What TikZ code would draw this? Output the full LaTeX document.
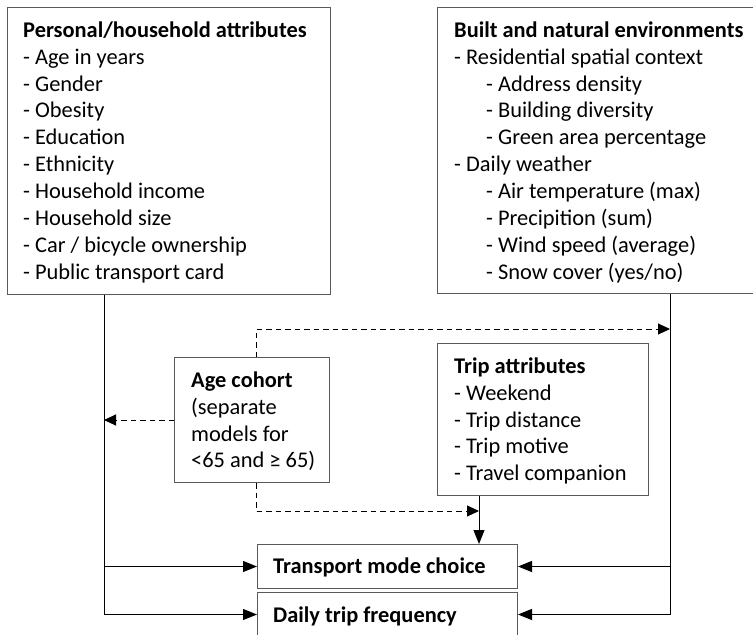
\documentclass[tikz,border=0pt]{standalone}
\usepackage{fontspec}
\setmainfont{Carlito}
\usetikzlibrary{arrows.meta,calc}
\definecolor{boxgray}{gray}{0.35}
\begin{document}
\begin{tikzpicture}[x=1pt,y=-1pt,
  box/.style={draw=boxgray, line width=1pt, inner sep=0pt, anchor=north west, fill=white},
  txt/.style={anchor=north west, align=left, inner sep=0pt, font=\fontsize{22.4}{26.9}\selectfont},
  conn/.style={line width=1pt, draw=black},
  arr/.style={conn, -{Triangle[length=14pt,width=11pt]}},
  darr/.style={conn, -{Triangle[length=12pt,width=11pt]}, dash pattern=on 5.5pt off 4pt}
]
\useasboundingbox (0,0) rectangle (753,635);
\clip (0,0) rectangle (753,635);
\fill[white] (0,0) rectangle (753,635);

% boxes
\node[box, minimum width=323pt, minimum height=287pt] (pers) at (7,7) {};
\node[box, minimum width=340pt, minimum height=286pt] (env) at (437,7) {};
\node[box, minimum width=155pt, minimum height=125pt] (age) at (174,357) {};
\node[box, minimum width=211pt, minimum height=152pt] (trip) at (437,343) {};
\node[box, minimum width=260pt, minimum height=44pt] (trans) at (257,544) {};
\node[box, minimum width=260pt, minimum height=44pt] (daily) at (257,592) {};

% texts
\node[txt] (perstxt) at (23,19) {\rule{0pt}{18pt}\textbf{Personal/household attributes}\\
- Age in years\\
- Gender\\
- Obesity\\
- Education\\
- Ethnicity\\
- Household income\\
- Household size\\
- Car / bicycle ownership\\
- Public transport card};
\node[txt] (envtxt) at (454,19) {\rule{0pt}{18pt}\textbf{Built and natural environments}\\
- Residential spatial context\\
\hspace*{32pt}- Address density\\
\hspace*{32pt}- Building diversity\\
\hspace*{32pt}- Green area percentage\\
- Daily weather\\
\hspace*{32pt}- Air temperature (max)\\
\hspace*{32pt}- Precipition (sum)\\
\hspace*{32pt}- Wind speed (average)\\
\hspace*{32pt}- Snow cover (yes/no)};
\node[txt] (agetxt) at (191,369) {\rule{0pt}{18pt}\textbf{Age cohort}\\
(separate\\
models for\\
<65 and ≥ 65)};
\node[txt] (triptxt) at (454,355) {\rule{0pt}{18pt}\textbf{Trip attributes}\\
- Weekend\\
- Trip distance\\
- Trip motive\\
- Travel companion};
\node[txt] (transtxt) at (273,555) {\rule{0pt}{18pt}\textbf{Transport mode choice}};
\node[txt] (dailytxt) at (273,604) {\rule{0pt}{18pt}\textbf{Daily trip frequency}};

% helper coordinates
\coordinate (lline) at (104,0);
\coordinate (rline) at (670,0);
\coordinate (tline) at (479,0);
\coordinate (aline) at (256,0);
\coordinate (topdash) at (0,329);
\coordinate (botdash) at (0,511);

% solid connectors
\draw[arr] (pers.south -| lline) |- (daily.west);
\draw[arr] (lline |- trans.west) -- (trans.west);
\draw[arr] (env.south -| rline) |- (daily.east);
\draw[arr] (rline |- trans.east) -- (trans.east);
\draw[arr] (trip.south -| tline) -- (trans.north -| tline);

% dashed connectors
\draw[darr] (age.north -| aline) |- (rline |- topdash);
\draw[darr] (age.west) -- (lline |- age.west);
\draw[darr] (age.south -| aline) |- (tline |- botdash);
\end{tikzpicture}
\end{document}
